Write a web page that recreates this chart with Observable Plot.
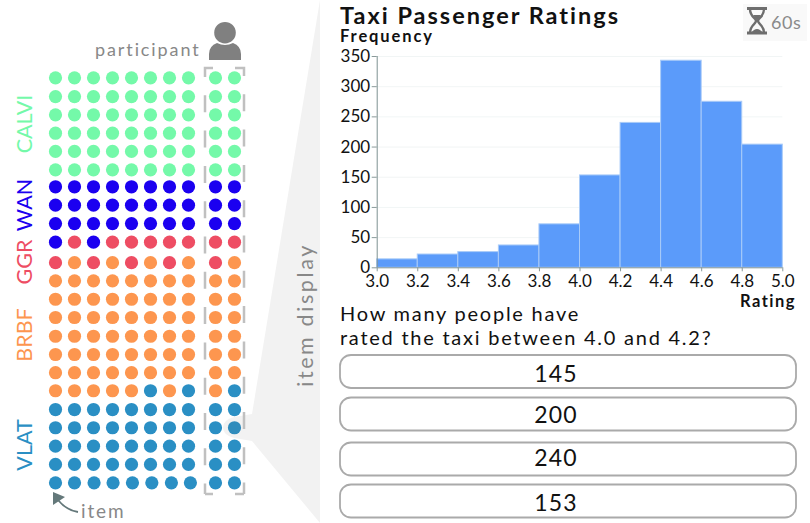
<!DOCTYPE html>
<html>
<head>
<meta charset="utf-8">
<script src="https://cdn.jsdelivr.net/npm/d3@7"></script>
<script src="https://cdn.jsdelivr.net/npm/@observablehq/plot@0.6"></script>
<style>
html,body{margin:0;padding:0;background:#fff;}
#stage{position:relative;width:810px;height:523px;overflow:hidden;font-family:Lato,sans-serif;}
#stage>*{position:absolute;left:0;top:0;}
text{font-family:Lato,sans-serif;}
</style>
</head>
<body>
<div id="stage"></div>
<script>
// ---------- data ----------
const binStarts = [3.0,3.2,3.4,3.6,3.8,4.0,4.2,4.4,4.6,4.8];
const binEnds   = [3.2,3.4,3.6,3.8,4.0,4.2,4.4,4.6,4.8,5.0];
const frequency = [14,22,26,37,72,153,240,343,275,204];
const xTicks = [3.0,3.2,3.4,3.6,3.8,4.0,4.2,4.4,4.6,4.8,5.0];
const yTicks = [0,50,100,150,200,250,300,350];

const testColors = {C:"#74F9A9",W:"#1B00F0",G:"#EE4D63",B:"#FD964F",V:"#2A8FC4"};
const testKeys = ["C","W","G","B","V"];
const testNames = ["CALVI","WAN","GGR","BRBF","VLAT"];

// each string is one row of items, one letter per participant
const itemRows = [
  "CCCCCCCCCC","CCCCCCCCCC","CCCCCCCCCC","CCCCCCCCCC","CCCCCCCCCC","CCCCCCCCCC",
  "WWWWWWWWWW","WWWWWWWWWW","WWWWWWWWWW",
  "WGWGGGGGGG","GBGBGBGBGB",
  "BBBBBBBBBB","BBBBBBBBBB","BBBBBBBBBB","BBBBBBBBBB","BBBBBBBBBB","BBBBBBBBBB",
  "BBBBBVBVBV",
  "VVVVVVVVVV","VVVVVVVVVV","VVVVVVVVVV","VVVVVVVVVV","VVVVVVVVVV"
];
// row and column places, in rows and columns
const rowPlaces = [0,1.02,2.01,3.01,4,5,5.92,6.92,7.92,8.93,10.04,11.03,12.03,13.02,14.04,15.03,16.02,17,18.02,19.01,20.01,21,22];
const participantColumns = [1,2,3,4,5,6,7,8,9.42,10.42];
const lastRowColumns = [1,2,3.03,4.03,5.05,6.07,7.1,8.1,9.42,10.42];
const answers = ["145","200","240","153"];

const items = itemRows.flatMap((row,r)=>[...row].map((k,c)=>({
  col:(r===itemRows.length-1?lastRowColumns:participantColumns)[c], row:rowPlaces[r], test:k
})));
const bins = binStarts.map((s,i)=>({x1:s,x2:binEnds[i],y:frequency[i]}));

const stage = document.getElementById("stage");
const NS = "http://www.w3.org/2000/svg";
function el(parent,tag,attrs,txt){
  const e=document.createElementNS(NS,tag);
  for(const k in attrs)e.setAttribute(k,attrs[k]);
  if(txt!==undefined)e.textContent=txt;
  parent.appendChild(e);return e;
}

// ---------- backdrop ----------
const back = el(stage,"svg",{width:810,height:523,viewBox:"0 0 810 523"});
el(back,"path",{d:"M320 0 L252 414 L252 441 L320 523 Z",fill:"#f2f2f2"});

// ---------- item matrix ----------
const matrix = Plot.plot({
  width:810,height:523,margin:0,
  style:{background:"transparent"},
  x:{domain:[0,42.63],range:[36,846],axis:null},
  y:{domain:[0,22],range:[77.3,482.3],axis:null},
  marks:[
    Plot.dot(items,{x:"col",y:"row",r:6.6,fill:d=>testColors[d.test],stroke:"none"})
  ]
});
stage.appendChild(matrix);

// ---------- histogram ----------
const hist = Plot.plot({
  width:810,height:523,
  marginLeft:376.7,marginRight:27.7,marginTop:56,marginBottom:255.7,
  style:{background:"transparent",fontFamily:"Lato,sans-serif",fontSize:"17px",color:"#111",overflow:"visible"},
  x:{domain:[3,5],ticks:xTicks,label:null},
  y:{domain:[0,350],ticks:yTicks,label:null},
  marks:[
    Plot.gridY(yTicks,{stroke:"#e6eded",strokeOpacity:0.55}),
    Plot.rectY(bins,{x1:"x1",x2:"x2",y:"y",fill:"#5B9BFA",stroke:"#A9CBF8",strokeWidth:1}),
    Plot.axisX(xTicks,{tickFormat:d3.format(".1f"),tickSize:4,tickPadding:3,stroke:"#8a9a9a",fill:"#111",fontSize:17}),
    Plot.axisY(yTicks,{tickSize:5,tickPadding:2,stroke:"#8a9a9a",fill:"#111",fontSize:17}),
    Plot.ruleX([3],{stroke:"#7d9292"}),
    Plot.ruleY([0],{stroke:"#8a9a9a"})
  ]
});
stage.appendChild(hist);

// ---------- annotations ----------
const ov = el(stage,"svg",{width:810,height:523,viewBox:"0 0 810 523"});
// highlight on the selected item
el(ov,"path",{d:"M252 414 L234 417 Q223 420 223 427.5 Q223 435 234 438 L252 441 Z",fill:"#6e6e6e",opacity:.09});
// dashed participant bracket
const br={fill:"none",stroke:"#c0c0c0","stroke-width":2.5,"stroke-dasharray":"17 18.3"};
el(ov,"path",{...br,d:"M213 68 H205 V494"});
el(ov,"path",{...br,d:"M235 68 H244 V494"});
el(ov,"path",{d:"M205 494 H213 M244 494 H235",fill:"none",stroke:"#c0c0c0","stroke-width":2.5});

function txt(x,y,s,o={}){
  return el(ov,"text",{x,y,"dominant-baseline":"central",fill:"#111","font-size":17,...o},s);
}
const labelY={C:124,W:205,G:262,B:335,V:445};
testKeys.forEach((k,i)=>{
  el(ov,"text",{transform:`translate(23.5,${labelY[k]}) rotate(-90)`,"text-anchor":"middle","dominant-baseline":"central",fill:testColors[k],"font-size":21.5},testNames[i]);
});
txt(95,49,"participant",{fill:"#888","font-size":18,"letter-spacing":1.9});
el(ov,"text",{transform:"translate(304.5,315) rotate(-90)","text-anchor":"middle","dominant-baseline":"central",fill:"#888","font-size":21.5,"letter-spacing":2.6},"item display");
txt(81,510.5,"item",{fill:"#888","font-size":19,"letter-spacing":1.9});

// participant icon
el(ov,"circle",{cx:225,cy:32.7,r:10.8,fill:"#808080"});
el(ov,"path",{d:"M209 60 V54 Q209 46 217 43 Q225 47 233 43 Q241 46 241 54 V60 Z",fill:"#808080"});

// item arrow
el(ov,"path",{d:"M78 512 Q66 510 58 500",fill:"none",stroke:"#64787a","stroke-width":1.9});
el(ov,"path",{d:"M53 492 L53 505 L65 497 Z",fill:"#64787a"});

// chart texts
txt(340,14.5,"Taxi Passenger Ratings",{"font-size":23.5,"font-weight":700,"letter-spacing":2});
txt(340,36,"Frequency",{"font-size":16.5,"font-weight":700,"letter-spacing":1.9});
txt(796,300.5,"Rating",{"font-size":16.5,"font-weight":700,"letter-spacing":1.5,"text-anchor":"end"});
txt(340,312.5,"How many people have",{"font-size":20,"letter-spacing":1.75});
txt(340,337,"rated the taxi between 4.0 and 4.2?",{"font-size":20,"letter-spacing":1.75});

// timer
el(ov,"rect",{x:743,y:4,width:64,height:37,fill:"#f9f9f9"});
el(ov,"path",{d:"M747 8.5 H767 M747 33 H767",fill:"none",stroke:"#6e6e6e","stroke-width":3});
el(ov,"path",{d:"M750 9 C750 17 756 18 756 21 C756 24 750 25 750 33 M764 9 C764 17 758 18 758 21 C758 24 764 25 764 33",fill:"none",stroke:"#6e6e6e","stroke-width":2.4});
el(ov,"path",{d:"M753 15 H761 L757 21 Z M751 33 Q757 25 763 33 Z",fill:"#6e6e6e"});
txt(771,22,"60s",{fill:"#8a8a8a","font-size":18,"letter-spacing":.6});

// answer buttons
const buttonTops=[355,397.5,442.5,484.5];
const answerCentres=[372.7,414.3,457.3,502.3];
answers.forEach((a,i)=>{
  el(ov,"rect",{x:340,y:buttonTops[i],width:456,height:33,rx:11,fill:"#fff",stroke:"#aaaaaa","stroke-width":1.8});
  txt(556,answerCentres[i],a,{"text-anchor":"middle","font-size":23,"letter-spacing":1.2});
});
</script>
</body>
</html>
